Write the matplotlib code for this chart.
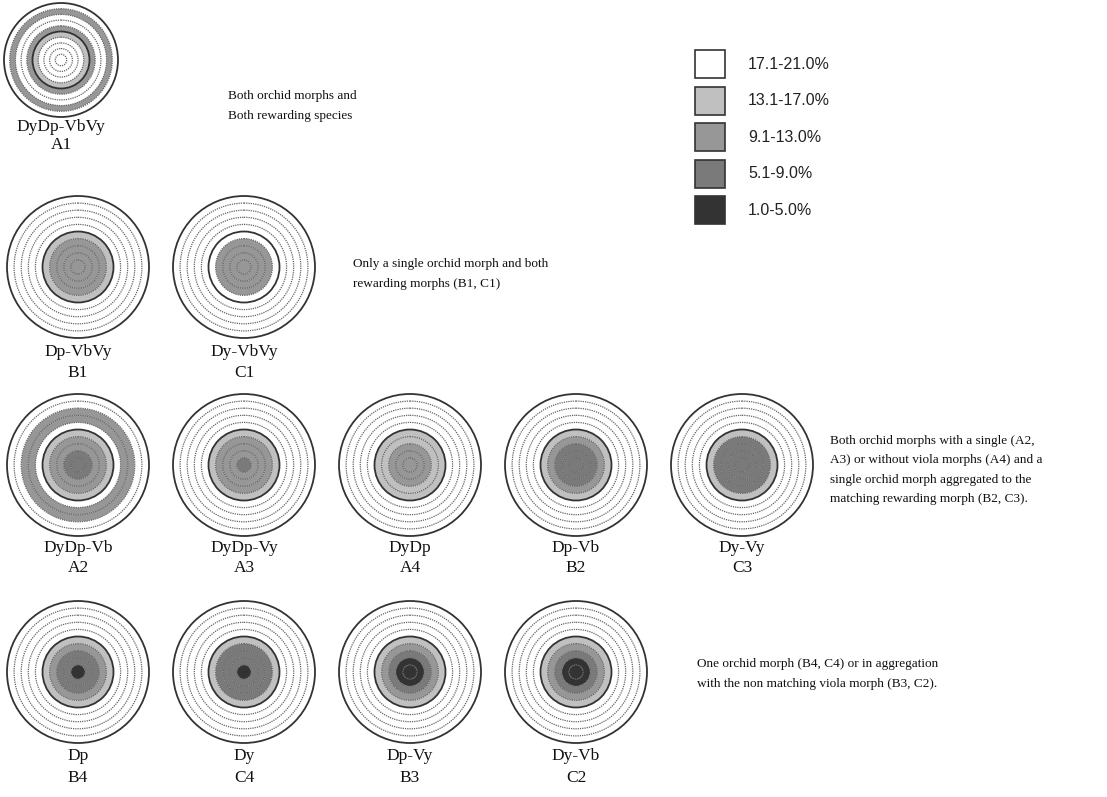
import numpy as np
import matplotlib.pyplot as plt
from matplotlib.patches import Wedge, Circle, Rectangle

# shade classes, innermost ring first (0 = 17.1-21.0%, 4 = 1.0-5.0%)
class_labels = ['17.1-21.0%', '13.1-17.0%', '9.1-13.0%', '5.1-9.0%', '1.0-5.0%']
class_colors = ['#ffffff', '#c0c0c0', '#979797', '#7a7a7a', '#333333']

names = ['DyDp-VbVy', 'Dp-VbVy', 'Dy-VbVy',
         'DyDp-Vb', 'DyDp-Vy', 'DyDp', 'Dp-Vb', 'Dy-Vy',
         'Dp', 'Dy', 'Dp-Vy', 'Dy-Vb']
codes = ['A1', 'B1', 'C1',
         'A2', 'A3', 'A4', 'B2', 'C3',
         'B4', 'C4', 'B3', 'C2']
rings = [
    [0, 0, 0, 0, 1, 2, 0, 0, 2, 0],  # A1
    [2, 2, 2, 2, 1, 0, 0, 0, 0, 0],  # B1
    [2, 2, 2, 2, 0, 0, 0, 0, 0, 0],  # C1
    [3, 3, 2, 2, 1, 0, 2, 2, 0, 0],  # A2
    [3, 2, 2, 2, 1, 0, 0, 0, 0, 0],  # A3
    [2, 2, 2, 1, 1, 0, 0, 0, 0, 0],  # A4
    [3, 3, 3, 2, 1, 0, 0, 0, 0, 0],  # B2
    [3, 3, 3, 3, 1, 0, 0, 0, 0, 0],  # C3
    [4, 3, 3, 2, 1, 0, 0, 0, 0, 0],  # B4
    [4, 3, 3, 3, 1, 0, 0, 0, 0, 0],  # C4
    [4, 4, 3, 2, 1, 0, 0, 0, 0, 0],  # B3
    [4, 4, 3, 2, 1, 0, 0, 0, 0, 0],  # C2
]

notes = [
    'Both orchid morphs and\nBoth rewarding species',
    'Only a single orchid morph and both\nrewarding morphs (B1, C1)',
    'Both orchid morphs with a single (A2,\nA3) or without viola morphs (A4) and a\n'
    'single orchid morph aggregated to the\nmatching rewarding morph (B2, C3).',
    'One orchid morph (B4, C4) or in aggregation\nwith the non matching viola morph (B3, C2).',
]

# layout (pixel coordinates)
col_x = [78, 244, 410, 576, 742]
row_y = [60, 267, 465, 672]
grid = [(0, 0), (1, 0), (1, 1),
        (2, 0), (2, 1), (2, 2), (2, 3), (2, 4),
        (3, 0), (3, 1), (3, 2), (3, 3)]
label_dy = [67, 85, 83, 84]
label_gap = [18, 21, 20, 22]
note_pos = [(228, 106), (353, 274), (830, 470), (697, 674)]

fig = plt.figure(figsize=(11.07, 7.97), dpi=100)
ax = fig.add_axes([0, 0, 1, 1])
ax.set_xlim(0, 1107)
ax.set_ylim(797, 0)
ax.set_aspect('equal')
ax.axis('off')

serif = 'Liberation Serif'
n = len(rings[0])
for name, code, shades, (r, c) in zip(names, codes, rings, grid):
    cx, cy = col_x[c], row_y[r]
    if r == 0:
        cx, R = 61, 57
    else:
        R = 71
    dr = R / n
    for i, k in enumerate(shades):
        ax.add_patch(Wedge((cx, cy), dr * (i + 1), 0, 360, width=dr,
                           facecolor=class_colors[k], edgecolor='none'))
    for i in range(1, n + 1):
        if i in (n // 2, n):
            ax.add_patch(Circle((cx, cy), dr * i, fill=False,
                                edgecolor='#333333', lw=1.3))
        else:
            ax.add_patch(Circle((cx, cy), dr * i, fill=False, edgecolor='#666666',
                                lw=0.9, linestyle=(0, (1, 0.8))))
    ax.text(cx, cy + label_dy[r], name, ha='center', va='center',
            fontsize=12.5, family=serif, color='#111111')
    ax.text(cx, cy + label_dy[r] + label_gap[r], code, ha='center', va='center',
            fontsize=12.5, family=serif, color='#111111')

for txt, (x, y) in zip(notes, note_pos):
    ax.text(x, y, txt, ha='left', va='center', fontsize=9.5, family=serif,
            color='#111111', linespacing=1.78)

# legend boxes
for i, (lab, col) in enumerate(zip(class_labels, class_colors)):
    y0 = 50 + i * 36.5
    ax.add_patch(Rectangle((695, y0), 30, 28, facecolor=col,
                           edgecolor='#333333', lw=1.2))
    ax.text(748, y0 + 14, lab, ha='left', va='center', fontsize=11.5,
            family='Liberation Sans', color='#222222')

fig.savefig('out.png', dpi=100)
